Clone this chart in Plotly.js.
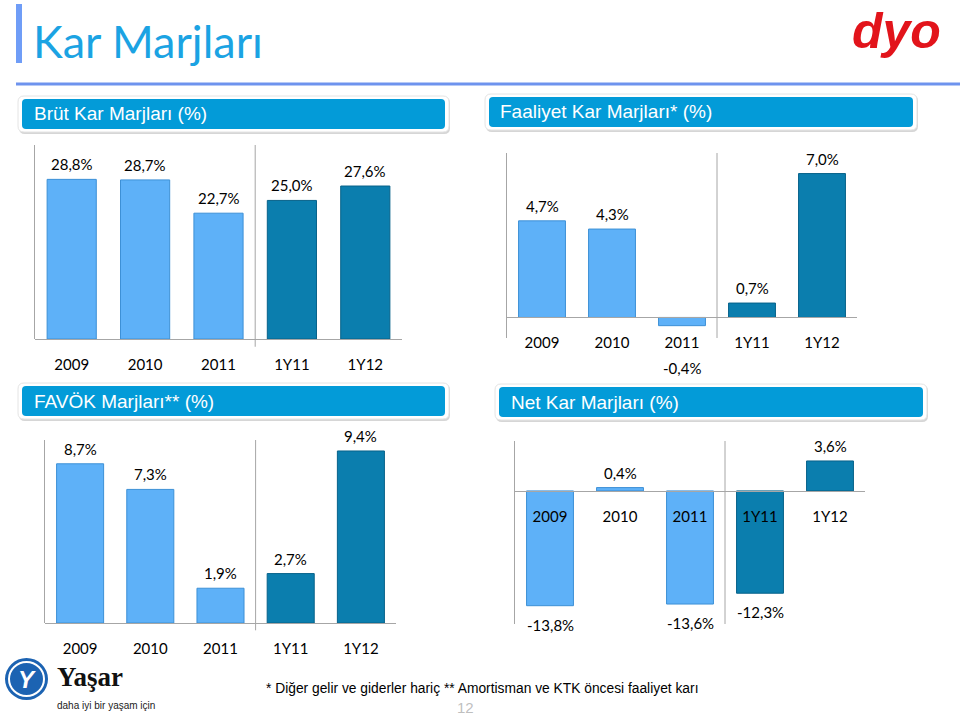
<!DOCTYPE html>
<html>
<head>
<meta charset="utf-8">
<script src="https://cdn.plot.ly/plotly-3.0.1.min.js"></script>
<style>html,body{margin:0;padding:0;background:#fff;}#chart{width:960px;height:717px;}</style>
</head>
<body>
<div id="chart"></div>
<script>
// ---- data ----
const categories = ['2009', '2010', '2011', '1Y11', '1Y12'];
const brutKar = [28.8, 28.7, 22.7, 25.0, 27.6];
const faaliyetKar = [4.7, 4.3, -0.4, 0.7, 7.0];
const favok = [8.7, 7.3, 1.9, 2.7, 9.4];
const netKar = [-13.8, 0.4, -13.6, -12.3, 3.6];
const panelTitles = ['Brüt Kar Marjları (%)', 'Faaliyet Kar Marjları* (%)', 'FAVÖK Marjları** (%)', 'Net Kar Marjları (%)'];
const pageTitle = 'Kar Marjları';
const footnote = '* Diğer gelir ve giderler hariç ** Amortisman ve KTK öncesi faaliyet karı';
const pageNumber = '12';

// ---- layout helpers ----
const W = 960, H = 717;
const fx = p => p / W;
const fy = p => 1 - p / H;
const LIGHT = '#5EB1F8', DARK = '#0B7EAE';
const LIGHT_LINE = '#3D90D6', DARK_LINE = '#07628A';
const AXIS = '#A6A6A6';
const numFont = 'Lato, "Open Sans", sans-serif';
const fmt = v => v.toFixed(1).replace('.', ',') + '%';

const panels = [
  {vals: brutKar, px: [35, 402], py: [145, 339], range: [0, 35], sepExt: 0.04,
   box: [22, 99, 445, 129], tx: 32},
  {vals: faaliyetKar, px: [507, 857], py: [153, 338], range: [-1, 8], sepExt: 0,
   box: [489, 97, 913, 127], tx: 498},
  {vals: favok, px: [45, 396], py: [440, 623], range: [0, 10], sepExt: 0.04,
   box: [22, 386, 445, 416], tx: 32},
  {vals: netKar, px: [515, 865], py: [441, 624], range: [-16, 6], sepExt: 0,
   box: [499, 387, 923, 417], tx: 509}
];

function rr(x0, y0, x1, y1, r) {
  const P = (x, y) => fx(x) + ',' + fy(y);
  return 'M' + P(x0 + r, y0) + ' L' + P(x1 - r, y0) + ' Q' + P(x1, y0) + ' ' + P(x1, y0 + r) +
    ' L' + P(x1, y1 - r) + ' Q' + P(x1, y1) + ' ' + P(x1 - r, y1) +
    ' L' + P(x0 + r, y1) + ' Q' + P(x0, y1) + ' ' + P(x0, y1 - r) +
    ' L' + P(x0, y0 + r) + ' Q' + P(x0, y0) + ' ' + P(x0 + r, y0) + ' Z';
}

const data = [];
const layout = {
  width: W, height: H,
  margin: {l: 0, r: 0, t: 0, b: 0},
  paper_bgcolor: '#ffffff', plot_bgcolor: 'rgba(0,0,0,0)',
  showlegend: false, bargap: 0.33,
  shapes: [], annotations: []
};

const barColors = categories.map((c, i) => i < 3 ? LIGHT : DARK);
const lineColors = categories.map((c, i) => i < 3 ? LIGHT_LINE : DARK_LINE);

panels.forEach((p, i) => {
  const n = i === 0 ? '' : String(i + 1);
  const xa = 'x' + n, ya = 'y' + n;
  data.push({
    type: 'bar', x: categories, y: p.vals, xaxis: xa, yaxis: ya,
    marker: {color: barColors, line: {color: lineColors, width: 1}},
    hoverinfo: 'skip'
  });
  const yd = [fy(p.py[1]), fy(p.py[0])];
  const zeroPos = yd[0] + (0 - p.range[0]) / (p.range[1] - p.range[0]) * (yd[1] - yd[0]);
  layout['xaxis' + n] = {
    domain: [fx(p.px[0]), fx(p.px[1])], type: 'category', range: [-0.5, 4.5],
    anchor: 'free', position: zeroPos, showline: true, linecolor: AXIS, linewidth: 1,
    ticks: '', ticklabelstandoff: 12, showgrid: false, zeroline: false, fixedrange: true,
    tickfont: {family: numFont, size: 15, color: '#000'}
  };
  layout['yaxis' + n] = {
    domain: yd, range: p.range, anchor: xa, showline: true, linecolor: AXIS, linewidth: 1,
    showticklabels: false, ticks: '', showgrid: false, zeroline: false, fixedrange: true
  };
  // separator between yearly and half-year data
  layout.shapes.push({type: 'line', xref: xa, yref: ya + ' domain', x0: 2.5, x1: 2.5,
    y0: -p.sepExt, y1: 1, line: {color: AXIS, width: 1}});
  // value labels (x given as category index)
  const pxPerUnit = (p.py[1] - p.py[0]) / (p.range[1] - p.range[0]);
  p.vals.forEach((v, k) => {
    let shift;
    if (v >= 0) shift = 15;
    else {
      const barPx = -v * pxPerUnit;
      shift = -19;
      if (barPx + 19 < 45) shift = -(51 - barPx);
    }
    layout.annotations.push({xref: xa, yref: ya, x: k, y: v, yshift: shift,
      text: fmt(v), showarrow: false, xanchor: 'center', yanchor: 'middle',
      font: {family: numFont, size: 15, color: '#000'}});
  });
  // header box
  const b = p.box;
  layout.shapes.push({type: 'path', xref: 'paper', yref: 'paper', layer: 'below',
    path: rr(b[0] - 3, b[1] - 2, b[2] + 5, b[3] + 5, 6), fillcolor: '#D6D6D6', line: {width: 0}});
  layout.shapes.push({type: 'path', xref: 'paper', yref: 'paper', layer: 'below',
    path: rr(b[0] - 4, b[1] - 3, b[2] + 4, b[3] + 3, 6), fillcolor: '#FFFFFF', line: {color: '#E4E4E4', width: 1}});
  layout.shapes.push({type: 'path', xref: 'paper', yref: 'paper', layer: 'below',
    path: rr(b[0], b[1], b[2], b[3], 4), fillcolor: '#039BD8', line: {width: 0}});
  layout.annotations.push({xref: 'paper', yref: 'paper', x: fx(p.tx), y: fy((b[1] + b[3]) / 2),
    text: panelTitles[i], showarrow: false, xanchor: 'left', yanchor: 'middle',
    font: {family: '"Liberation Sans", Arial, sans-serif', size: 19, color: '#FFFFFF'}});
});

// page decorations
layout.shapes.push({type: 'rect', xref: 'paper', yref: 'paper', x0: fx(16), x1: fx(22), y0: fy(63), y1: fy(4),
  fillcolor: '#6F9DF7', line: {width: 0}});
layout.shapes.push({type: 'line', xref: 'paper', yref: 'paper', x0: fx(16), x1: fx(960), y0: fy(84), y1: fy(84),
  line: {color: '#6E93EE', width: 3}});
layout.annotations.push({xref: 'paper', yref: 'paper', x: fx(31), y: fy(41), text: pageTitle,
  showarrow: false, xanchor: 'left', yanchor: 'middle',
  font: {family: numFont, size: 45, color: '#1BA3E3'}});
// dyo logo
layout.annotations.push({xref: 'paper', yref: 'paper', x: fx(896), y: fy(31), text: '<b><i>dyo</i></b>',
  showarrow: false, xanchor: 'center', yanchor: 'middle',
  font: {family: '"Liberation Sans", Arial, sans-serif', size: 50, color: '#E2141B'}});
// Yaşar logo
layout.shapes.push({type: 'circle', xref: 'paper', yref: 'paper', x0: fx(5), x1: fx(48), y0: fy(700), y1: fy(658),
  fillcolor: '#1C63B2', line: {width: 0}});
layout.shapes.push({type: 'circle', xref: 'paper', yref: 'paper', x0: fx(9), x1: fx(44), y0: fy(696), y1: fy(662),
  fillcolor: 'rgba(0,0,0,0)', line: {color: '#FFFFFF', width: 2}});
layout.annotations.push({xref: 'paper', yref: 'paper', x: fx(26.5), y: fy(679), text: '<b><i>Y</i></b>',
  showarrow: false, xanchor: 'center', yanchor: 'middle',
  font: {family: '"Liberation Sans", Arial, sans-serif', size: 24, color: '#FFFFFF'}});
layout.annotations.push({xref: 'paper', yref: 'paper', x: fx(55), y: fy(677), text: '<b>Yaşar</b>',
  showarrow: false, xanchor: 'left', yanchor: 'middle',
  font: {family: '"Liberation Serif", serif', size: 27, color: '#111111'}});
layout.annotations.push({xref: 'paper', yref: 'paper', x: fx(55), y: fy(705), text: 'daha iyi bir yaşam için',
  showarrow: false, xanchor: 'left', yanchor: 'middle',
  font: {family: '"Liberation Sans", Arial, sans-serif', size: 10, color: '#222222'}});
// footnote & page number
layout.annotations.push({xref: 'paper', yref: 'paper', x: fx(264), y: fy(688), text: footnote,
  showarrow: false, xanchor: 'left', yanchor: 'middle',
  font: {family: '"Liberation Sans", Arial, sans-serif', size: 13.8, color: '#000000'}});
layout.annotations.push({xref: 'paper', yref: 'paper', x: fx(465), y: fy(707), text: pageNumber,
  showarrow: false, xanchor: 'center', yanchor: 'middle',
  font: {family: '"Liberation Sans", Arial, sans-serif', size: 15, color: '#BFBFBF'}});

Plotly.newPlot('chart', data, layout, {displayModeBar: false, staticPlot: true});
</script>
</body>
</html>
